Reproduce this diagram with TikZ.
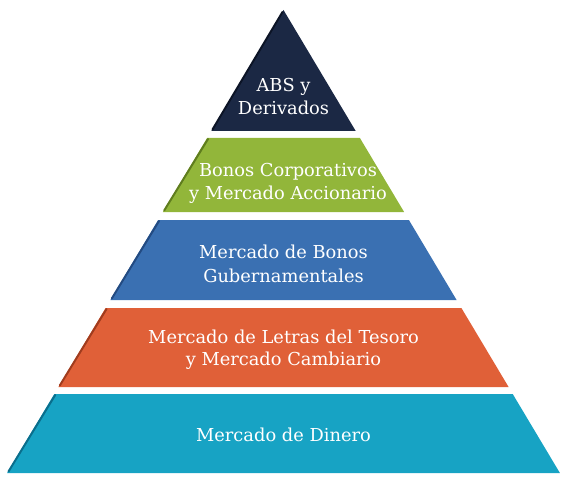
\documentclass[tikz,border=0pt]{standalone}
\usepackage{fontspec}
\setmainfont{DejaVu Serif}
\definecolor{navy}{RGB}{27,40,68}
\definecolor{navyd}{RGB}{12,20,38}
\definecolor{leaf}{RGB}{146,182,58}
\definecolor{leafd}{RGB}{95,125,30}
\definecolor{bluel}{RGB}{58,112,178}
\definecolor{bluelD}{RGB}{35,75,130}
\definecolor{orng}{RGB}{224,96,56}
\definecolor{orngd}{RGB}{160,60,30}
\definecolor{teal}{RGB}{23,163,196}
\definecolor{teald}{RGB}{10,110,140}
\tikzset{
  lbl/.style={anchor=base, text=white, inner sep=0pt, font=\fontsize{17.9}{20}\selectfont},
  edge/.style={line width=2bp, line cap=round}
}
\begin{document}
\begin{tikzpicture}[x=1bp,y=-1bp]
\useasboundingbox (0,0) rectangle (566,480);
% layers
\fill[navy]  (283.5,10) -- (355.7,131) -- (211.3,131) -- cycle;
\fill[leaf]  (207.1,138) -- (359.9,138) -- (404.1,212) -- (162.9,212) -- cycle;
\fill[bluel] (158.1,220) -- (408.9,220) -- (456.6,300) -- (110.4,300) -- cycle;
\fill[orng]  (105.6,308) -- (461.4,308) -- (508.6,387) -- (58.4,387) -- cycle;
\fill[teal]  (54.3,394) -- (512.7,394) -- (559.9,473) -- (7.1,473) -- cycle;
% darker left edges
\coordinate (e1a) at (282.5,12);  \coordinate (e1b) at (212.5,129.5);
\coordinate (e2a) at (208.0,139); \coordinate (e2b) at (164.2,210.5);
\coordinate (e3a) at (159.0,221); \coordinate (e3b) at (111.8,298.5);
\coordinate (e4a) at (106.5,309); \coordinate (e4b) at (59.8,385.5);
\coordinate (e5a) at (55.2,395);  \coordinate (e5b) at (8.5,471.5);
\draw[edge,navyd]  (e1a) -- (e1b);
\draw[edge,leafd]  (e2a) -- (e2b);
\draw[edge,bluelD] (e3a) -- (e3b);
\draw[edge,orngd]  (e4a) -- (e4b);
\draw[edge,teald]  (e5a) -- (e5b);
% labels
\node[lbl] (t1a) at (283.5,92)  {ABS y};
\node[lbl] (t1b) at (283.5,115) {Derivados};
\node[lbl] (t2a) at (288,177)   {Bonos Corporativos};
\node[lbl] (t2b) at (288,200)   {y Mercado Accionario};
\node[lbl] (t3a) at (283.5,258) {Mercado de Bonos};
\node[lbl] (t3b) at (283.5,282) {Gubernamentales};
\node[lbl] (t4a) at (283.5,343) {Mercado de Letras del Tesoro};
\node[lbl] (t4b) at (283.5,365) {y Mercado Cambiario};
\node[lbl] (t5)  at (283.5,441) {Mercado de Dinero};
\end{tikzpicture}
\end{document}
